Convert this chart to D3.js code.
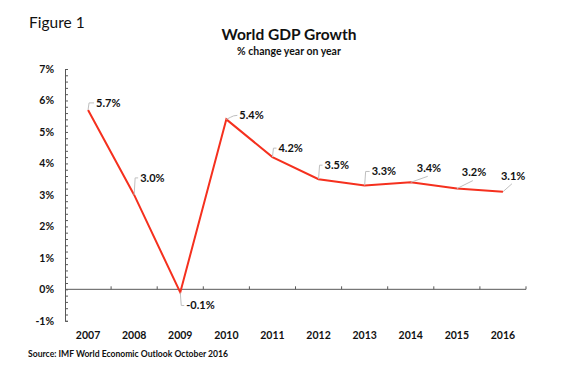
<!DOCTYPE html>
<html>
<head>
<meta charset="utf-8">
<script src="https://cdn.jsdelivr.net/npm/d3@7"></script>
<style>
  html, body { margin: 0; padding: 0; background: #fff; }
  svg { display: block; font-family: Lato, "Open Sans", sans-serif; }
</style>
</head>
<body>
<svg id="chart" width="562" height="379"></svg>
<script>
// ---- Data ----
const years = ["2007","2008","2009","2010","2011","2012","2013","2014","2015","2016"];
const growth = [5.7, 3.0, -0.1, 5.4, 4.2, 3.5, 3.3, 3.4, 3.2, 3.1];
const yTicks = [-1, 0, 1, 2, 3, 4, 5, 6, 7];

// ---- Label layout (pixel offsets of label left/centre from point; leader style) ----
const labelLayout = [
  {dx: 8,  dy: -7,  leader: "elbow"},
  {dx: 6,  dy: -17, leader: "elbow"},
  {dx: 6,  dy: 13,  leader: "elbow"},
  {dx: 13, dy: -4,  leader: "curve"},
  {dx: 6,  dy: -9,  leader: "elbow"},
  {dx: 6,  dy: -14, leader: "elbow"},
  {dx: 7,  dy: -14, leader: "elbow"},
  {dx: 6,  dy: -14, leader: "diag"},
  {dx: 5,  dy: -16, leader: "diag"},
  {dx: -2, dy: -16, leader: "diag"}
];

const svg = d3.select("#chart");
const axisColor = "#595959";

const x = d3.scaleBand().domain(years).range([65, 526]).padding(0);
const y = d3.scaleLinear().domain([-1, 7]).range([320.8, 69]);
const cx = d => x(d) + x.bandwidth() / 2;

// Titles
svg.append("text").attr("x", 29).attr("y", 28)
  .attr("font-size", 15.5).attr("fill", "#111").text("Figure 1");
svg.append("text").attr("x", 289).attr("y", 40).attr("text-anchor", "middle")
  .attr("font-size", 15.5).attr("font-weight", "bold").attr("fill", "#111").text("World GDP Growth");
svg.append("text").attr("x", 289).attr("y", 55).attr("text-anchor", "middle")
  .attr("font-size", 10.5).attr("font-weight", "bold").attr("fill", "#111").text("% change year on year");
svg.append("text").attr("x", 28).attr("y", 357)
  .attr("font-size", 8.6).attr("font-weight", "bold").attr("fill", "#111")
  .text("Source: IMF World Economic Outlook October 2016");

// Y axis: minor ticks inside
const minor = d3.range(-1, 7.0001, 0.2).map(v => +v.toFixed(1));
const gMinor = svg.append("g").attr("transform", "translate(65,0)")
  .call(d3.axisLeft(y).tickValues(minor).tickSize(-3).tickFormat(""));
gMinor.select(".domain").attr("stroke", axisColor);
gMinor.selectAll(".tick line").attr("stroke", axisColor);

const gY = svg.append("g").attr("transform", "translate(65,0)")
  .call(d3.axisLeft(y).tickValues(yTicks).tickSize(0).tickPadding(11).tickFormat(d => d + "%"));
gY.select(".domain").remove();
gY.selectAll("text").attr("font-size", 10.5).attr("font-weight", "bold")
  .attr("fill", "#111").attr("font-family", "Lato, sans-serif");

// X axis line at zero with ticks at category boundaries
const gX0 = svg.append("g").attr("transform", `translate(0,${y(0)})`);
gX0.append("line").attr("x1", 65).attr("x2", 526).attr("stroke", axisColor);
gX0.selectAll("line.tk").data(years.slice(1).concat(["end"])).join("line")
  .attr("class", "tk")
  .attr("x1", d => d === "end" ? x.range()[1] : x(d))
  .attr("x2", d => d === "end" ? x.range()[1] : x(d))
  .attr("y1", 0).attr("y2", -3).attr("stroke", axisColor);

// X labels at bottom
const gX = svg.append("g").attr("transform", "translate(0,332)")
  .call(d3.axisBottom(x).tickSize(0).tickPadding(0));
gX.select(".domain").remove();
gX.selectAll("text").attr("font-size", 10.5).attr("font-weight", "bold")
  .attr("fill", "#111").attr("font-family", "Lato, sans-serif");

// Line
const pts = years.map((yr, i) => ({yr, v: growth[i], px: cx(yr), py: y(growth[i]), lay: labelLayout[i]}));
svg.append("path").datum(pts)
  .attr("d", d3.line().x(d => d.px).y(d => d.py))
  .attr("fill", "none").attr("stroke", "#f5301e").attr("stroke-width", 2);

// Labels and leaders
const lbl = svg.append("g");
pts.forEach(p => {
  const lx = p.px + p.lay.dx, ly = p.py + p.lay.dy;
  let d;
  if (p.lay.leader === "elbow") {
    d = `M${p.px},${p.py} L${p.px + 1},${ly} L${lx - 2},${ly}`;
  } else if (p.lay.leader === "curve") {
    d = `M${p.px},${p.py} L${p.px + 4},${ly + 2} Q${p.px + 7},${ly} ${lx - 2},${ly}`;
  } else {
    d = `M${p.px},${p.py} L${lx + 11},${ly + 8}`;
  }
  lbl.append("path").attr("d", d).attr("fill", "none")
    .attr("stroke", "#bfbfbf").attr("stroke-width", 1);
  lbl.append("text").attr("x", lx).attr("y", ly).attr("dy", "0.35em")
    .attr("font-size", 11).attr("font-weight", "bold").attr("fill", "#111")
    .text(p.v.toFixed(1) + "%");
});
</script>
</body>
</html>
